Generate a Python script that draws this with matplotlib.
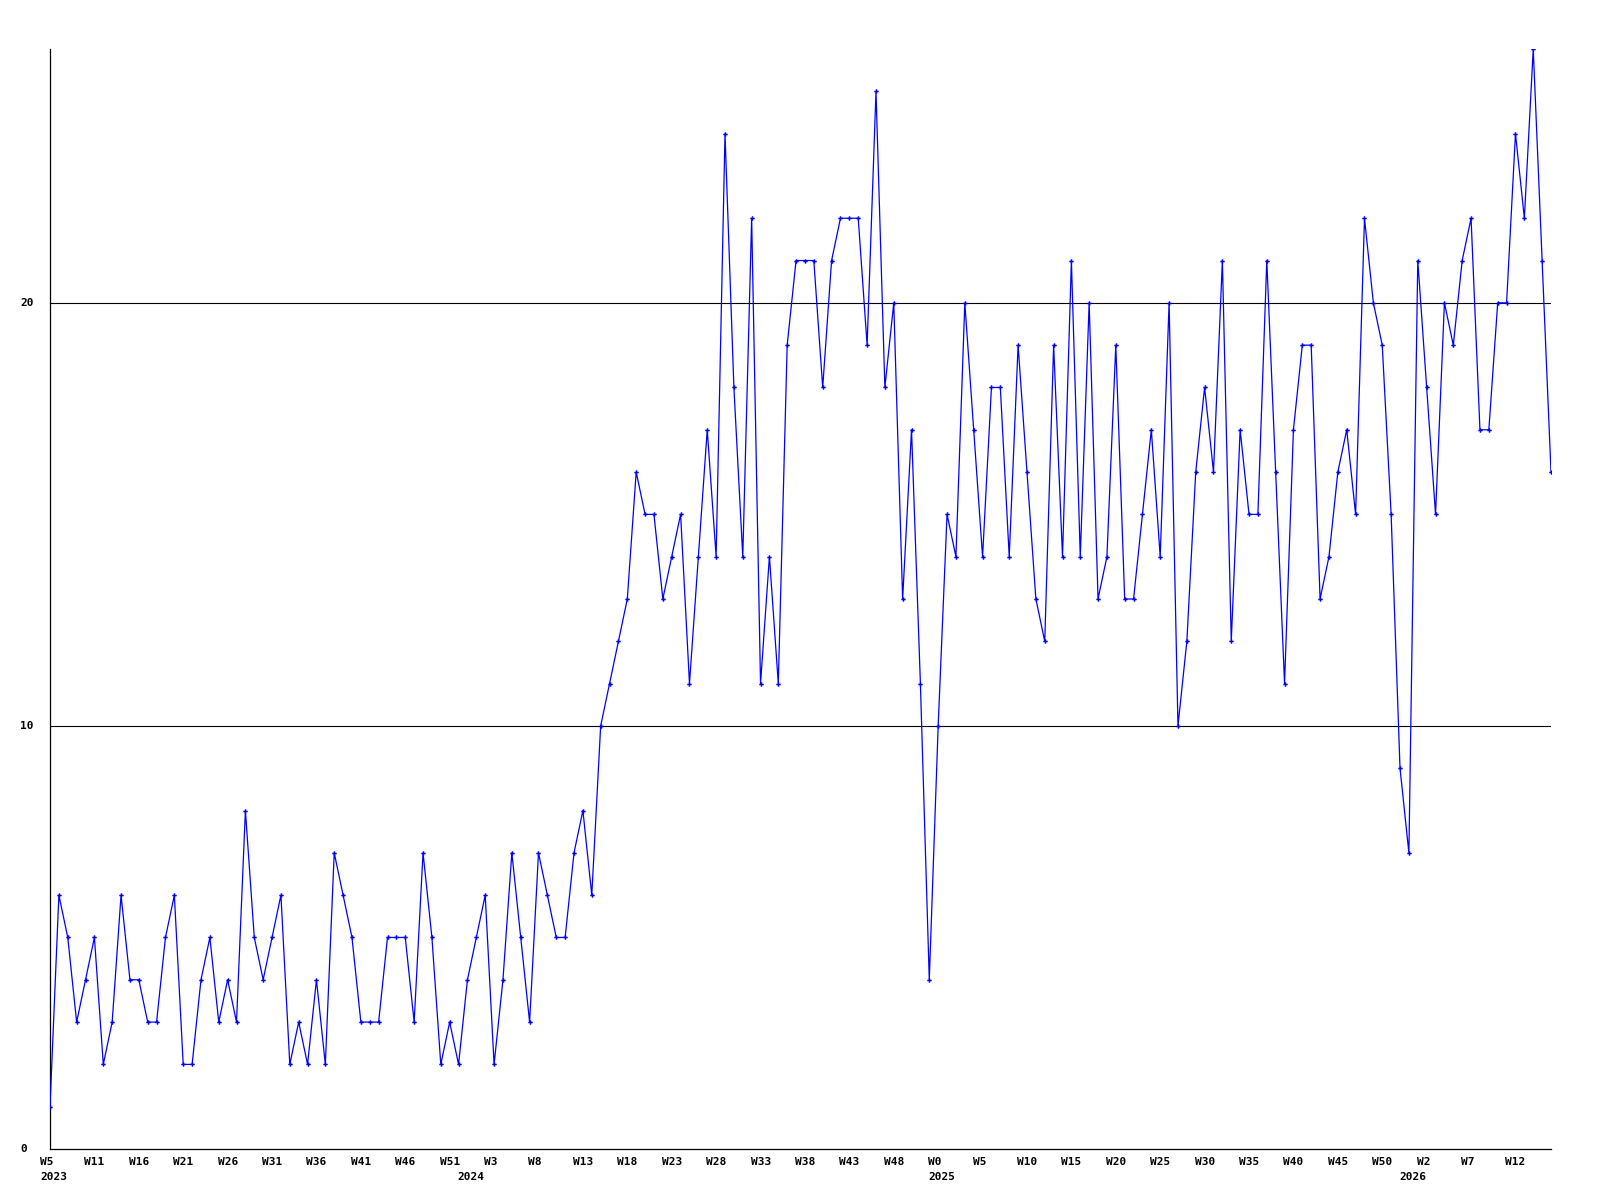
import matplotlib.pyplot as plt
from matplotlib.transforms import offset_copy

# valeurs hebdomadaires (2023 W5 -> 2026 W16)
values = [1, 6, 5, 3, 4, 5, 2, 3, 6, 4,
          4, 3, 3, 5, 6, 2, 2, 4, 5, 3,
          4, 3, 8, 5, 4, 5, 6, 2, 3, 2,
          4, 2, 7, 6, 5, 3, 3, 3, 5, 5,
          5, 3, 7, 5, 2, 3, 2, 4, 5, 6,
          2, 4, 7, 5, 3, 7, 6, 5, 5, 7,
          8, 6, 10, 11, 12, 13, 16, 15, 15, 13,
          14, 15, 11, 14, 17, 14, 24, 18, 14, 22,
          11, 14, 11, 19, 21, 21, 21, 18, 21, 22,
          22, 22, 19, 25, 18, 20, 13, 17, 11, 4,
          10, 15, 14, 20, 17, 14, 18, 18, 14, 19,
          16, 13, 12, 19, 14, 21, 14, 20, 13, 14,
          19, 13, 13, 15, 17, 14, 20, 10, 12, 16,
          18, 16, 21, 12, 17, 15, 15, 21, 16, 11,
          17, 19, 19, 13, 14, 16, 17, 15, 22, 20,
          19, 15, 9, 7, 21, 18, 15, 20, 19, 21,
          22, 17, 17, 20, 20, 24, 22, 26, 21, 16]

# une étiquette toutes les 5 semaines
week_labels = ['W5', 'W11', 'W16', 'W21', 'W26', 'W31', 'W36', 'W41', 'W46', 'W51',
               'W3', 'W8', 'W13', 'W18', 'W23', 'W28', 'W33', 'W38', 'W43', 'W48',
               'W0', 'W5', 'W10', 'W15', 'W20', 'W25', 'W30', 'W35', 'W40', 'W45',
               'W50', 'W2', 'W7', 'W12']
years = ['2023', '2024', '2025', '2026']
year_start = [0, 47, 100, 153]

y_ticks = [0, 10, 20]

x = list(range(len(values)))

fig = plt.figure(figsize=(16, 12), dpi=100)
ax = fig.add_axes([50 / 1600, 51 / 1200, 1501 / 1600, 1100 / 1200])

ax.plot(x, values, color='#0000ff', linewidth=0.9, marker='P', markersize=3.2,
        markeredgewidth=0, zorder=3)

for v in y_ticks[1:]:
    ax.axhline(v, color='black', linewidth=0.8, zorder=1)

ax.set_xlim(0, len(values) - 1)
ax.set_ylim(0, 26)
ax.spines['top'].set_visible(False)
ax.spines['right'].set_visible(False)
ax.spines['left'].set_linewidth(0.9)
ax.spines['bottom'].set_linewidth(0.9)
ax.set_xticks([])
ax.set_yticks([])

font = dict(family='DejaVu Sans Mono', fontweight='bold', fontsize=8)

# étiquettes Y alignées à gauche
ytrans = ax.get_yaxis_transform()
for v in y_ticks:
    ax.text(0, v, str(v), transform=offset_copy(ytrans, fig=fig, x=-30, y=0, units='dots'),
            ha='left', va='center', **font)

xtrans = ax.get_xaxis_transform()
for i, lab in enumerate(week_labels):
    ax.text(i * 5, 0, lab, transform=offset_copy(xtrans, fig=fig, x=-10, y=-8, units='dots'),
            ha='left', va='top', **font)

for pos, yr in zip(year_start, years):
    ax.text(pos, 0, yr, transform=offset_copy(xtrans, fig=fig, x=-10, y=-23, units='dots'),
            ha='left', va='top', **font)

plt.savefig('out.png', dpi=100)
